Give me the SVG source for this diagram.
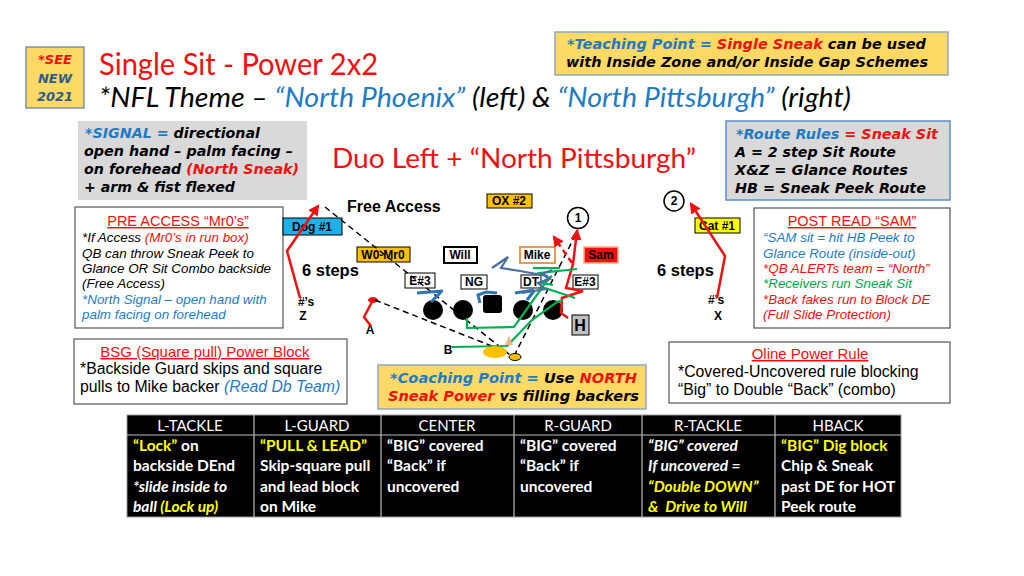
<svg xmlns="http://www.w3.org/2000/svg" width="1024" height="576" viewBox="0 0 1024 576">
<defs>
<style>
.a{font-family:"Liberation Sans",Arial,sans-serif}
.h{font-family:"DejaVu Sans","Liberation Sans",sans-serif;font-weight:bold;font-style:italic}
.c{font-family:Lato,"Open Sans",sans-serif}
.red{fill:#F01010}
.blu{fill:#1F7BC4}
.grn{fill:#00A650}
.yel{fill:#FFFF00}
.lbl{font-family:"Liberation Sans",Arial,sans-serif;font-weight:bold;font-size:12px;text-anchor:middle}
.box{stroke:#000;stroke-width:1}
.note{fill:#FFFFFF;stroke:#555;stroke-width:1.2}
.gold{fill:#FFD966;stroke:#8EA9C1;stroke-width:1.5}
.gray{fill:#D9D9D9}
.th{font-family:Lato,"Open Sans",sans-serif;font-size:15px;fill:#fff;text-anchor:middle}
.td{font-family:Lato,"Open Sans",sans-serif;font-size:15.5px;font-weight:bold;fill:#fff}
.rt{fill:none;stroke:#F01010;stroke-width:2.5}
.dsh{fill:none;stroke:#000;stroke-width:1.5;stroke-dasharray:6 4}
.gr{fill:none;stroke:#00B050;stroke-width:2.2}
.bl{fill:none;stroke:#2E75B6;stroke-width:3}
.db{fill:none;stroke:#4A6FA5;stroke-width:2.2}
</style>
<marker id="ar" viewBox="0 0 10 10" refX="8" refY="5" markerWidth="4.5" markerHeight="4.5" orient="auto">
<path d="M0,0 L10,5 L0,10 z" fill="#F01010"/>
</marker>
</defs>
<rect width="1024" height="576" fill="#fff"/>

<g id="see-new">
<rect x="26" y="47" width="58" height="61" fill="#FFD966" stroke="#5B7FA0" stroke-width="1.2"/>
<text class="h" font-size="13" text-anchor="middle"><tspan x="55" y="64" class="red">*SEE</tspan><tspan x="55" y="83" fill="#2E5C8A">NEW</tspan><tspan x="55" y="101" fill="#2E5C8A">2021</tspan></text>
</g>

<g id="title">
<text class="c red" x="99" y="75" font-size="30" textLength="279" lengthAdjust="spacingAndGlyphs">Single Sit - Power 2x2</text>
<text class="c" x="99" y="107" font-size="27" font-style="italic" textLength="752" lengthAdjust="spacingAndGlyphs">*NFL Theme – <tspan class="blu">“North Phoenix”</tspan> (left) &amp; <tspan class="blu">“North Pittsburgh”</tspan> (right)</text>
</g>

<g id="teaching-point">
<rect x="555" y="32" width="393" height="43" class="gold"/>
<text class="h" x="567" y="49" font-size="13.5" textLength="359" lengthAdjust="spacingAndGlyphs"><tspan class="blu">*Teaching Point = </tspan><tspan class="red">Single Sneak</tspan> can be used</text>
<text class="h" x="566" y="67" font-size="13.5" textLength="362" lengthAdjust="spacingAndGlyphs">with Inside Zone and/or Inside Gap Schemes</text>
</g>

<g id="signal">
<rect x="78" y="121" width="229" height="79" class="gray"/>
<text class="h" x="85" y="138" font-size="14" textLength="175" lengthAdjust="spacingAndGlyphs"><tspan class="blu">*SIGNAL = </tspan>directional</text>
<text class="h" x="84" y="156" font-size="14" textLength="209" lengthAdjust="spacingAndGlyphs">open hand – palm facing –</text>
<text class="h" x="84" y="174" font-size="14" textLength="215" lengthAdjust="spacingAndGlyphs">on forehead <tspan class="red">(North Sneak)</tspan></text>
<text class="h" x="84" y="192" font-size="14" textLength="151" lengthAdjust="spacingAndGlyphs">+ arm &amp; fist flexed</text>
</g>

<g id="play-name">
<text class="c red" x="332" y="168" font-size="26" textLength="364" lengthAdjust="spacingAndGlyphs">Duo Left + “North Pittsburgh”</text>
</g>

<g id="route-rules">
<rect x="726" y="121" width="224" height="79" class="gray" stroke="#5B8FC9" stroke-width="1.5"/>
<text class="h" x="736" y="139" font-size="14" textLength="202" lengthAdjust="spacingAndGlyphs"><tspan class="blu">*Route Rules </tspan><tspan class="red">= Sneak Sit</tspan></text>
<text class="h" x="735" y="157" font-size="14" textLength="161" lengthAdjust="spacingAndGlyphs">A = 2 step Sit Route</text>
<text class="h" x="735" y="175" font-size="14" textLength="173" lengthAdjust="spacingAndGlyphs">X&amp;Z = Glance Routes</text>
<text class="h" x="735" y="193" font-size="14" textLength="191" lengthAdjust="spacingAndGlyphs">HB = Sneak Peek Route</text>
</g>

<g id="pre-access">
<rect x="75" y="207" width="208" height="121" class="note"/>
<text class="a red" x="178" y="226" font-size="14.5" text-anchor="middle" text-decoration="underline">PRE ACCESS “Mr0’s”</text>
<text class="a" font-size="13.4" font-style="italic">
<tspan x="82" y="242">*If Access <tspan class="red">(Mr0’s in run box)</tspan></tspan>
<tspan x="82" y="258">QB can throw Sneak Peek to</tspan>
<tspan x="82" y="273">Glance OR Sit Combo backside</tspan>
<tspan x="82" y="288">(Free Access)</tspan>
<tspan x="82" y="304" class="blu">*North Signal – open hand with</tspan>
<tspan x="82" y="319" class="blu">palm facing on forehead</tspan>
</text>
</g>

<g id="post-read">
<rect x="754" y="208" width="196" height="120" class="note"/>
<text class="a red" x="852" y="226" font-size="14.5" text-anchor="middle" text-decoration="underline">POST READ “SAM”</text>
<text class="a" font-size="13.4" font-style="italic">
<tspan x="763" y="242" class="blu">“SAM sit = hit HB Peek to</tspan>
<tspan x="763" y="258" class="blu">Glance Route (inside-out)</tspan>
<tspan x="763" y="273" class="red">*QB ALERTs team = “North”</tspan>
<tspan x="763" y="288" class="grn">*Receivers run Sneak Sit</tspan>
<tspan x="763" y="304" class="red">*Back fakes run to Block DE</tspan>
<tspan x="763" y="319" class="red">(Full Slide Protection)</tspan>
</text>
</g>

<g id="bsg">
<rect x="74" y="339" width="273" height="65" class="note"/>
<text class="a red" x="205" y="357" font-size="15" text-anchor="middle" text-decoration="underline">BSG (Square pull) Power Block</text>
<text class="a" x="80" y="374" font-size="15.8">*Backside Guard skips and square</text>
<text class="a" x="80" y="392" font-size="15.8">pulls to Mike backer <tspan class="blu" font-style="italic">(Read Db Team)</tspan></text>
</g>

<g id="coaching-point">
<rect x="378" y="365" width="268" height="44" class="gold"/>
<text class="h" x="390" y="383" font-size="14" textLength="247" lengthAdjust="spacingAndGlyphs"><tspan class="blu">*Coaching Point = </tspan>Use <tspan class="red">NORTH</tspan></text>
<text class="h" x="388" y="401" font-size="14" textLength="251" lengthAdjust="spacingAndGlyphs"><tspan class="red">Sneak Power</tspan> vs filling backers</text>
</g>

<g id="oline-rule">
<rect x="669" y="342" width="281" height="61" class="note"/>
<text class="a red" x="810" y="359" font-size="15" text-anchor="middle" text-decoration="underline">Oline Power Rule</text>
<text class="a" x="678" y="377" font-size="15.8">*Covered-Uncovered rule blocking</text>
<text class="a" x="678" y="395" font-size="15.8">“Big” to Double “Back” (combo)</text>
</g>

<g id="free-access"><text class="a" font-weight="bold" x="347" y="212" font-size="16">Free Access</text></g>
<g id="steps-left"><text class="a" font-weight="bold" x="302" y="276" font-size="16.5">6 steps</text></g>
<g id="steps-right"><text class="a" font-weight="bold" x="657" y="276" font-size="16.5">6 steps</text></g>
<g id="z"><text class="lbl" x="306" y="306">#’s</text><text class="lbl" x="303" y="320">Z</text></g>
<g id="x"><text class="lbl" x="716" y="304">#’s</text><text class="lbl" x="718" y="320">X</text></g>
<g id="a-back"><ellipse cx="373" cy="300" rx="5" ry="3" fill="#F01010"/><text class="lbl" x="370" y="334">A</text></g>
<g id="b-back"><text class="lbl" x="448" y="354">B</text></g>

<g id="dog"><rect x="283" y="218" width="59" height="17" fill="#1FB0E8" class="box"/><text class="lbl" x="312" y="231">Dog #1</text></g>
<g id="w0-mr0"><rect x="357" y="247" width="53" height="15" fill="#FFC000" class="box"/><text class="lbl" x="383" y="259">W0-Mr0</text></g>
<g id="will"><rect x="444" y="247" width="33" height="16" fill="#fff" stroke="#000" stroke-width="2"/><text class="lbl" x="460" y="259">Will</text></g>
<g id="mike"><rect x="520" y="247" width="35" height="16" fill="#fff" stroke="#E59A5A" stroke-width="2"/><text class="lbl" x="537" y="259">Mike</text></g>
<g id="sam"><rect x="584" y="247" width="34" height="16" fill="#F01010" stroke="#F4B183" stroke-width="1.5"/><text class="lbl" x="601" y="259">Sam</text></g>
<g id="e3-left"><rect x="405" y="273" width="30" height="15" fill="#fff" class="box"/><text class="lbl" x="420" y="285">E#3</text></g>
<g id="ng"><rect x="461" y="275" width="26" height="14" fill="#fff" class="box"/><text class="lbl" x="474" y="286">NG</text></g>
<g id="dt"><rect x="521" y="275" width="20" height="13" fill="#fff" class="box"/><text class="lbl" x="531" y="286">DT</text></g>
<g id="e3-right"><rect x="573" y="275" width="25" height="14" fill="#fff" class="box"/><text class="lbl" x="585" y="286">E#3</text></g>
<g id="ox"><rect x="487" y="194" width="45" height="14" fill="#FFC000" class="box"/><text class="lbl" x="509" y="205">OX #2</text></g>
<g id="cat"><rect x="695" y="218" width="45" height="15" fill="#FFFF00" class="box"/><text class="lbl" x="717" y="230">Cat #1</text></g>
<g id="h-back"><rect x="572" y="315" width="17" height="20" fill="#BFBFBF" class="box"/><text class="a" font-weight="bold" font-size="16" text-anchor="middle" x="580" y="331">H</text></g>
<g id="route-1"><circle cx="578" cy="218" r="10.5" fill="#fff" stroke="#000" stroke-width="1.5"/><text class="lbl" x="578" y="222">1</text></g>
<g id="route-2"><circle cx="674" cy="201" r="10" fill="#fff" stroke="#000" stroke-width="1.5"/><text class="lbl" x="674" y="205">2</text></g>

<g id="oline">
<circle cx="433" cy="310" r="10"/>
<circle cx="463" cy="310" r="10"/>
<rect x="483" y="295" width="19" height="18" rx="3"/>
<circle cx="523" cy="310" r="10"/>
<circle cx="553" cy="310" r="10"/>
</g>

<g id="connectors">
<path class="dsh" d="M325,207 L510,355"/>
<path class="dsh" d="M375,300 L507,352"/>
<path class="dsh" d="M514,356 L578,230"/>
<polyline points="300,298 287,251 318,206" fill="none" stroke="#F01010" stroke-width="2.5" marker-end="url(#ar)"/>
<polyline points="717,298 725,256 691,204" fill="none" stroke="#F01010" stroke-width="2.5" marker-end="url(#ar)"/>
<path class="rt" d="M373,300 L364,317 L371,326"/>
<path class="rt" d="M568,318 L561,313 L562,298 L583,291 L566,288 L573,264 L577,231" marker-end="url(#ar)"/>
<path class="rt" d="M572,263 L554,237" stroke-dasharray="6 4" marker-end="url(#ar)"/>
<path class="gr" d="M467,318 L467,328 L514,327 L549,278 L540,273 L577,269"/>
<path class="gr" d="M533,268 L560,268"/>
<path class="gr" d="M452,347 L507,346 L532,320 L557,302 L563,300"/>
<path class="gr" d="M545,288 L575,298"/>
<path class="gr" d="M552,276 L541,283 L553,285"/>
<path class="bl" d="M417,293 L443,291 M431,302 L441,292"/>
<path class="bl" d="M480,303 L478,295 L486,292 L497,293"/>
<path class="bl" d="M515,293 L534,290 M527,300 L534,291"/>
<path class="db" d="M492,268 L508,257 L501,268 L520,271 L548,276"/>
<path class="db" d="M522,293 L545,289 L538,283 L550,279 L542,274 L552,270"/>
</g>

<g id="qb">
<path d="M505,345 L509,336 L513,345 z" fill="#F4B183"/>
<ellipse cx="495" cy="352" rx="12" ry="6" fill="#FFC000"/>
<ellipse cx="515" cy="357" rx="6" ry="3.5" fill="#FFC000" stroke="#000" stroke-width="1"/>
</g>

<g id="table">
<rect x="127" y="415" width="774" height="102" fill="#000" stroke="#999" stroke-width="1"/>
<path d="M127,435 H901 M254,415 V517 M381,415 V517 M514,415 V517 M642,415 V517 M775,415 V517" stroke="#bbb" stroke-width="1.2"/>
<text class="th" x="190" y="431">L-TACKLE</text>
<text class="th" x="317" y="431">L-GUARD</text>
<text class="th" x="447" y="431">CENTER</text>
<text class="th" x="578" y="431">R-GUARD</text>
<text class="th" x="708" y="431">R-TACKLE</text>
<text class="th" x="838" y="431">HBACK</text>
<text class="td"><tspan x="133" y="451"><tspan class="yel">“Lock”</tspan> on</tspan><tspan x="133" y="471">backside DEnd</tspan><tspan x="133" y="492" font-style="italic">*slide inside to</tspan><tspan x="133" y="512" font-style="italic">ball <tspan class="yel">(Lock up)</tspan></tspan></text>
<text class="td"><tspan x="260" y="451" class="yel">“PULL &amp; LEAD”</tspan><tspan x="260" y="471">Skip-square pull</tspan><tspan x="260" y="492">and lead block</tspan><tspan x="260" y="512">on Mike</tspan></text>
<text class="td"><tspan x="387" y="451">“BIG” covered</tspan><tspan x="387" y="471">“Back” if</tspan><tspan x="387" y="492">uncovered</tspan></text>
<text class="td"><tspan x="520" y="451">“BIG” covered</tspan><tspan x="520" y="471">“Back” if</tspan><tspan x="520" y="492">uncovered</tspan></text>
<text class="td" font-style="italic"><tspan x="648" y="451">“BIG” covered</tspan><tspan x="648" y="471">If uncovered =</tspan><tspan x="648" y="492" class="yel">“Double DOWN”</tspan><tspan x="648" y="512" class="yel" xml:space="preserve">&amp;  Drive to Will</tspan></text>
<text class="td"><tspan x="781" y="451" class="yel">“BIG” Dig block</tspan><tspan x="781" y="471">Chip &amp; Sneak</tspan><tspan x="781" y="492">past DE for HOT</tspan><tspan x="781" y="512">Peek route</tspan></text>
</g>
</svg>
